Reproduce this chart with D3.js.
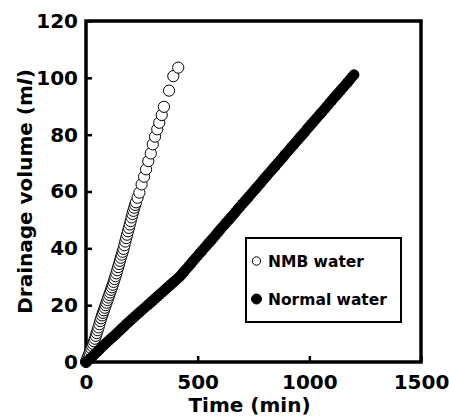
<!DOCTYPE html>
<html>
<head>
<meta charset="utf-8">
<script src="https://cdn.jsdelivr.net/npm/d3@7"></script>
<style>
  body { margin: 0; background: #fff; }
  text { font-family: "DejaVu Sans", sans-serif; font-weight: bold; fill: #000; }
</style>
</head>
<body>
<div id="chart-area"></div>
<script>
// dados
const nmbTime = [0, 4, 8, 12, 16, 20, 24, 28, 32, 36, 40, 44, 48, 52, 56, 60, 64, 68, 72, 76,
  80, 84, 88, 92, 96, 100, 104, 108, 112, 116, 120, 124, 128, 132, 136, 140, 144, 148, 152, 156,
  160, 164, 168, 172, 176, 180, 184, 188, 192, 196, 200, 204, 208, 212, 216, 220, 224, 231,
  239, 249, 260, 269, 279, 290, 299, 309, 319, 328, 339, 349, 372, 391, 413]
const nmbVolume = [0.0, 0.8, 1.6, 2.4, 3.2, 4.0, 4.8, 5.6, 6.4, 7.3, 8.2, 9.2, 10.2, 11.2, 12.2, 13.3, 14.4, 15.4, 16.4, 17.3,
  18.2, 19.1, 20.0, 20.9, 21.8, 22.7, 23.6, 24.5, 25.4, 26.3, 27.2, 28.2, 29.2, 30.2, 31.2, 32.3, 33.4, 34.5, 35.6, 36.7,
  37.8, 38.8, 39.8, 41.1, 42.4, 43.6, 44.8, 46.0, 47.2, 48.4, 49.6, 50.9, 52.1, 53.2, 54.3, 55.3, 56.2, 57.8,
  59.6, 62.5, 65.2, 67.8, 70.7, 73.4, 76.6, 79.3, 81.9, 84.2, 86.9, 89.8, 95.5, 100.6, 103.6]

const normalTime = [0, 10, 20, 30, 40, 50, 60, 70, 80, 90, 100, 110, 120, 130, 140, 150, 160, 170, 180, 190,
  200, 210, 220, 230, 240, 250, 260, 270, 280, 290, 300, 310, 320, 330, 340, 350, 360, 370, 380, 390,
  400, 410, 420, 430, 440, 450, 460, 470, 480, 490, 500, 510, 520, 530, 540, 550, 560, 570, 580, 590,
  600, 610, 620, 630, 640, 650, 660, 670, 680, 690, 700, 710, 720, 730, 740, 750, 760, 770, 780, 790,
  800, 810, 820, 830, 840, 850, 860, 870, 880, 890, 900, 910, 920, 930, 940, 950, 960, 970, 980, 990,
  1000, 1010, 1020, 1030, 1040, 1050, 1060, 1070, 1080, 1090, 1100, 1110, 1120, 1130, 1140, 1150, 1160, 1170, 1180, 1190, 1200]
const normalVolume = [0.0, 0.6, 1.3, 2.0, 2.8, 3.6, 4.4, 5.2, 5.9, 6.7, 7.4, 8.1, 8.8, 9.5, 10.3, 11.0, 11.8, 12.5, 13.3, 14.0,
  14.7, 15.4, 16.1, 16.8, 17.5, 18.2, 18.9, 19.6, 20.3, 21.0, 21.7, 22.4, 23.1, 23.8, 24.5, 25.2, 25.9, 26.6, 27.3, 28.0,
  28.7, 29.4, 30.1, 31.0, 31.9, 32.8, 33.7, 34.6, 35.6, 36.5, 37.4, 38.3, 39.2, 40.1, 41.0, 41.9, 42.8, 43.7, 44.6, 45.6,
  46.5, 47.4, 48.3, 49.2, 50.1, 51.0, 51.9, 52.8, 53.8, 54.7, 55.6, 56.5, 57.4, 58.3, 59.2, 60.1, 61.0, 61.9, 62.8, 63.8,
  64.7, 65.6, 66.5, 67.4, 68.3, 69.2, 70.1, 71.0, 71.9, 72.9, 73.8, 74.7, 75.6, 76.5, 77.4, 78.3, 79.2, 80.1, 81.0, 82.0,
  82.9, 83.8, 84.7, 85.6, 86.5, 87.4, 88.3, 89.2, 90.1, 91.1, 92.0, 92.9, 93.8, 94.7, 95.6, 96.5, 97.4, 98.3, 99.2, 100.2, 101.1]

const xTicks = [0, 500, 1000, 1500]
const yTicks = [0, 20, 40, 60, 80, 100, 120]
const legendLabels = ["NMB water", "Normal water"]

// área de desenho
const margin = { left: 86, right: 28, top: 21, bottom: 54 }
const width = 449 - margin.left - margin.right
const height = 416 - margin.top - margin.bottom

const svg = d3.select("#chart-area").append("svg")
  .attr("width", 449)
  .attr("height", 416)

const grafico = svg.append("g")
  .attr("transform", `translate(${margin.left}, ${margin.top})`)

const x = d3.scaleLinear().domain([0, 1500]).range([0, width])
const y = d3.scaleLinear().domain([0, 120]).range([height, 0])

// eixos (ticks para dentro)
const xAxisCall = d3.axisBottom(x).tickValues(xTicks).tickFormat(d3.format("d")).tickSize(-6).tickPadding(13)
const xAxis = grafico.append("g")
  .attr("transform", `translate(0, ${height})`)
  .call(xAxisCall)
xAxis.selectAll("text").attr("font-size", "20px").attr("font-family", "DejaVu Sans").attr("font-weight", "bold")

const yAxisCall = d3.axisLeft(y).tickValues(yTicks).tickFormat(d3.format("d")).tickSize(-6).tickPadding(8)
const yAxis = grafico.append("g").call(yAxisCall)
yAxis.selectAll("text").attr("font-size", "20px").attr("font-family", "DejaVu Sans").attr("font-weight", "bold")

grafico.selectAll(".domain").remove()
grafico.selectAll(".tick line").attr("stroke", "#000").attr("stroke-width", 2.5)

// moldura
grafico.append("rect")
  .attr("x", 0).attr("y", 0)
  .attr("width", width).attr("height", height)
  .attr("fill", "none")
  .attr("stroke", "#000")
  .attr("stroke-width", 3.5)

// títulos dos eixos
svg.append("text")
  .attr("x", margin.left + width / 2 - 4)
  .attr("y", 412)
  .attr("font-size", "20px")
  .attr("text-anchor", "middle")
  .text("Time (min)")

const yLabel = svg.append("text")
  .attr("x", -(margin.top + height / 2))
  .attr("y", 32)
  .attr("font-size", "20px")
  .attr("text-anchor", "middle")
  .attr("transform", "rotate(-90)")
yLabel.append("tspan").text("Drainage volume (m")
yLabel.append("tspan").attr("font-style", "italic").text("l")
yLabel.append("tspan").text(")")

// séries
const nmb = nmbTime.map((t, i) => ({ t: t, v: nmbVolume[i] }))
const normal = normalTime.map((t, i) => ({ t: t, v: normalVolume[i] }))

grafico.append("g").selectAll("circle")
  .data(nmb)
  .enter().append("circle")
    .attr("cx", d => x(d.t))
    .attr("cy", d => y(d.v))
    .attr("r", 5.6)
    .attr("fill", "#fff")
    .attr("stroke", "#000")
    .attr("stroke-width", 1)

grafico.append("g").selectAll("circle")
  .data(normal)
  .enter().append("circle")
    .attr("cx", d => x(d.t))
    .attr("cy", d => y(d.v))
    .attr("r", 5.4)
    .attr("fill", "#000")

// legenda
const legenda = svg.append("g").attr("transform", "translate(246, 238)")
legenda.append("rect")
  .attr("width", 155).attr("height", 84)
  .attr("fill", "#fff")
  .attr("stroke", "#000")
  .attr("stroke-width", 2)

legendLabels.forEach((nome, i) => {
  const linha = legenda.append("g").attr("transform", `translate(0, ${23 + i * 38})`)
  linha.append("circle")
    .attr("cx", 10.5).attr("cy", 0)
    .attr("r", i === 0 ? 4.2 : 5)
    .attr("fill", i === 0 ? "#fff" : "#000")
    .attr("stroke", "#000")
    .attr("stroke-width", 1)
  linha.append("text")
    .attr("x", 22).attr("y", 6)
    .attr("font-size", "15.5px")
    .text(nome)
})
</script>
</body>
</html>
